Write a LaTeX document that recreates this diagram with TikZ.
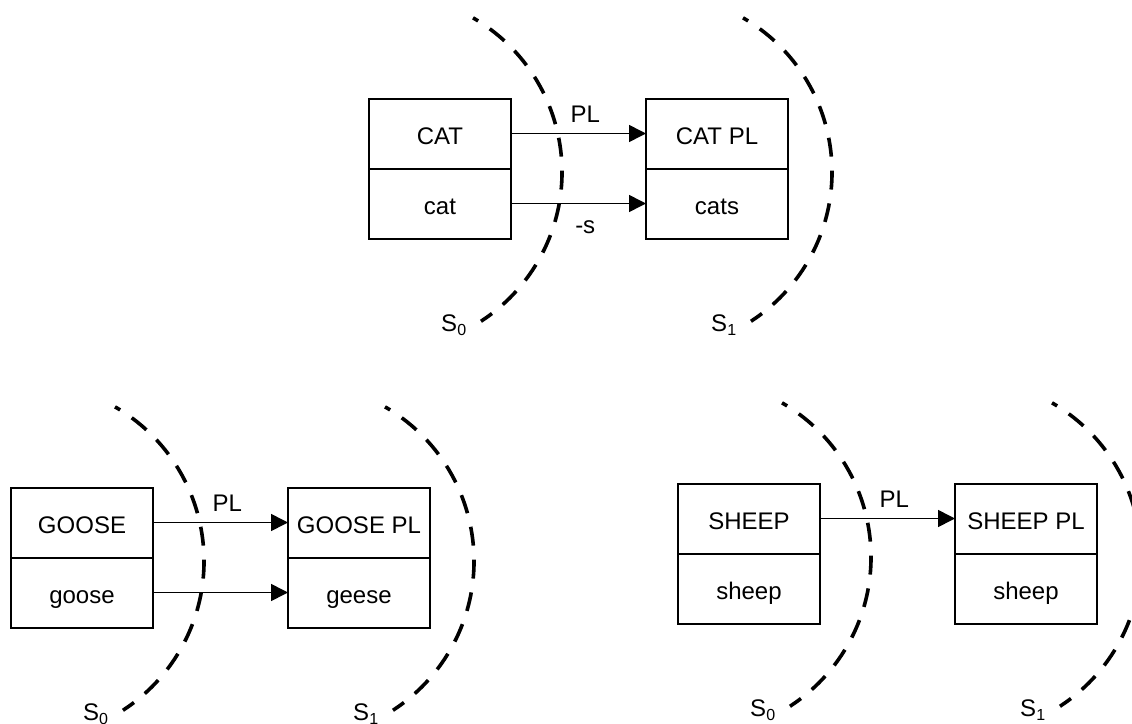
\documentclass[tikz,border=0pt]{standalone}
\usepackage{fontspec}
\setmainfont{Liberation Sans}
\usetikzlibrary{positioning,arrows.meta}

\tikzset{
  cell/.style={draw, line width=1pt, minimum width=71pt, minimum height=35pt,
    inner sep=0pt, outer sep=0pt, text height=10.5pt, text depth=0pt},
  morph/.style={line width=0.8pt, -{Triangle[length=8.5pt,width=8.5pt]}},
  spanarc/.style={line width=1.8pt, dash pattern=on 9.5pt off 7pt, dash phase=6.5pt},
  stagelabel/.style={left=6pt, yshift=-2pt, inner sep=0pt}
}

\begin{document}
\begin{tikzpicture}[x=0.5pt, y=0.5pt, font=\fontsize{12}{14}\selectfont]
  \useasboundingbox (0,0) rectangle (1132,-724);
  \clip (0,0) rectangle (1132,-724);

  % cat -> cats
  \begin{scope}
    \node[cell] (cat) at (440,-133.5) {CAT};
    \node[cell, below=0pt of cat] (catf) {cat};
    \node[cell, right=67.5pt of cat] (catpl) {CAT PL};
    \node[cell, below=0pt of catpl] (catplf) {cats};
    \draw[morph] (cat) -- node[above=2pt, pos=0.55] (plA) {PL} (catpl);
    \draw[morph] (catf) -- node[below=5pt, pos=0.55] (sA) {-s} (catplf);
    \draw[spanarc] (384,-172) ++(60:178) arc[start angle=60, end angle=-57, radius=178]
      node[stagelabel] (s0A) {S\textsubscript{0}};
    \draw[spanarc] (654,-172) ++(60:178) arc[start angle=60, end angle=-57, radius=178]
      node[stagelabel] (s1A) {S\textsubscript{1}};
  \end{scope}

  % goose -> geese
  \begin{scope}[shift={(-358,-389)}]
    \node[cell] (goose) at (440,-133.5) {GOOSE};
    \node[cell, below=0pt of goose] (goosef) {goose};
    \node[cell, right=67.5pt of goose] (goosepl) {GOOSE PL};
    \node[cell, below=0pt of goosepl] (gooseplf) {geese};
    \draw[morph] (goose) -- node[above=2pt, pos=0.55] (plB) {PL} (goosepl);
    \draw[morph] (goosef) -- (gooseplf);
    \draw[spanarc] (384,-172) ++(60:178) arc[start angle=60, end angle=-57, radius=178]
      node[stagelabel] (s0B) {S\textsubscript{0}};
    \draw[spanarc] (654,-172) ++(60:178) arc[start angle=60, end angle=-57, radius=178]
      node[stagelabel] (s1B) {S\textsubscript{1}};
  \end{scope}

  % sheep -> sheep
  \begin{scope}[shift={(309,-385)}]
    \node[cell] (sheep) at (440,-133.5) {SHEEP};
    \node[cell, below=0pt of sheep] (sheepf) {sheep};
    \node[cell, right=67.5pt of sheep] (sheeppl) {SHEEP PL};
    \node[cell, below=0pt of sheeppl] (sheepplf) {sheep};
    \draw[morph] (sheep) -- node[above=2pt, pos=0.55] (plC) {PL} (sheeppl);
    \draw[spanarc] (384,-172) ++(60:178) arc[start angle=60, end angle=-57, radius=178]
      node[stagelabel] (s0C) {S\textsubscript{0}};
    \draw[spanarc] (654,-172) ++(60:178) arc[start angle=60, end angle=-57, radius=178]
      node[stagelabel] (s1C) {S\textsubscript{1}};
  \end{scope}
\end{tikzpicture}
\end{document}
